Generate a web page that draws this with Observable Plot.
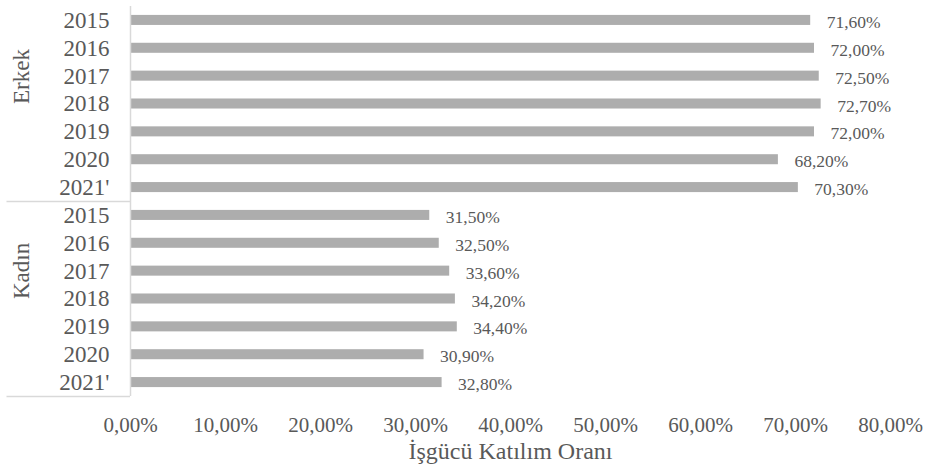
<!DOCTYPE html>
<html>
<head>
<meta charset="utf-8">
<script src="https://cdn.jsdelivr.net/npm/d3@7"></script>
<script src="https://cdn.jsdelivr.net/npm/@observablehq/plot@0.6"></script>
<style>
  html, body { margin: 0; padding: 0; background: #fff; }
</style>
</head>
<body>
<div id="chart"></div>
<script>
const groups = ["Erkek", "Kadın"];
const years = ["2015", "2016", "2017", "2018", "2019", "2020", "2021'"];
const erkekValues = [71.6, 72.0, 72.5, 72.7, 72.0, 68.2, 70.3];
const kadinValues = [31.5, 32.5, 33.6, 34.2, 34.4, 30.9, 32.8];
const xTicks = [0, 10, 20, 30, 40, 50, 60, 70, 80];
const axisTitle = "İşgücü Katılım Oranı";

const seriesByGroup = { "Erkek": erkekValues, "Kadın": kadinValues };
const data = groups.flatMap(g => years.map((yr, i) => ({
  group: g, year: yr, key: g + "|" + yr, value: seriesByGroup[g][i]
})));
const keys = data.map(d => d.key);

const fmt = v => v.toFixed(2).replace(".", ",") + "%";

const W = 931, H = 473;
const mTop = 6, mBottom = 77, mLeft = 130, mRight = 41;
const step = (H - mTop - mBottom) / keys.length;
const textColor = "#595959";
const lineColor = "#d9d9d9";
const font = "'Liberation Serif', 'Times New Roman', serif";

const groupEnds = groups.map(g => g + "|" + years[years.length - 1]);
const groupMid = groups.map(g => ({ group: g, key: g + "|" + years[3] }));

const chart = Plot.plot({
  width: W,
  height: H,
  marginTop: mTop,
  marginBottom: mBottom,
  marginLeft: mLeft,
  marginRight: mRight,
  style: { fontFamily: font, color: textColor, background: "#fff" },
  x: { domain: [0, 80], ticks: xTicks },
  y: { domain: keys, paddingInner: 0.64, paddingOuter: 0.32, align: 0.5, round: false },
  marks: [
    Plot.barX(data, { x: "value", y: "key", fill: "#adadad" }),
    Plot.text(data, {
      x: "value", y: "key", text: d => fmt(d.value),
      textAnchor: "start", dx: 16, dy: 2, fontSize: 17.5, fill: textColor
    }),
    Plot.text(data, {
      y: "key", text: "year", frameAnchor: "left", textAnchor: "end",
      dx: -21, fontSize: 23, fill: textColor
    }),
    Plot.text(groupMid, {
      y: "key", text: "group", frameAnchor: "left", rotate: -90,
      dx: -109, fontSize: 23, fill: textColor
    }),
    Plot.ruleX([0], { stroke: lineColor, strokeWidth: 1.5 }),
    Plot.ruleY(groupEnds, {
      y: d => d, dy: step / 2, x1: -13, x2: 0, stroke: lineColor, strokeWidth: 1.5
    }),
    Plot.axisX({
      ticks: xTicks, tickSize: 0, tickPadding: 21, tickFormat: fmt,
      fontSize: 21, fill: textColor, label: null
    }),
    Plot.text([axisTitle], {
      text: d => d, frameAnchor: "bottom", dy: 62, fontSize: 24, fill: textColor
    }),
    Plot.axisY({ ticks: [], tickSize: 0, label: null })
  ]
});

document.getElementById("chart").appendChild(chart);
</script>
</body>
</html>
